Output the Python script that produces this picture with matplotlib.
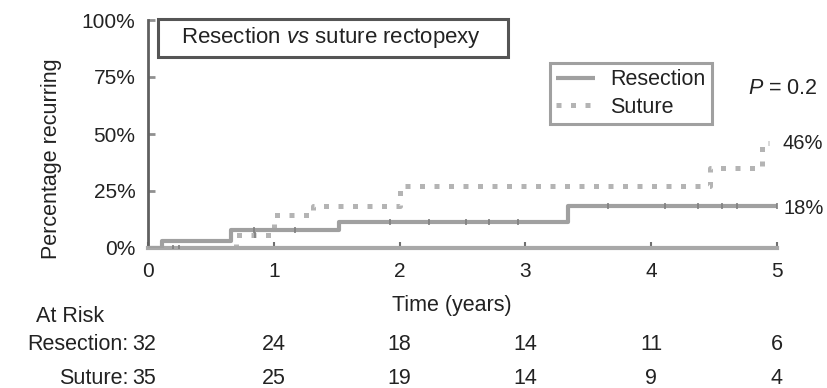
import numpy as np
import matplotlib
matplotlib.use("Agg")
import matplotlib.pyplot as plt
from matplotlib.patches import Rectangle
from matplotlib.transforms import blended_transform_factory

plt.rcParams['font.family'] = ['Liberation Sans', 'DejaVu Sans']
plt.rcParams['mathtext.fontset'] = 'custom'
plt.rcParams['mathtext.rm'] = 'Liberation Sans'
plt.rcParams['mathtext.it'] = 'Liberation Sans:italic'

# cumulative recurrence (step curves), time in years, value in percent
resection_t = [0, 0.11, 0.66, 1.52, 3.34, 5.0]
resection_pct = [0, 3.1, 7.8, 11.6, 18.4, 18.4]
suture_t = [0, 0.70, 1.0, 1.31, 2.0, 4.47, 4.88, 4.94]
suture_pct = [0, 5.7, 14.3, 18.6, 27.0, 35.0, 46.0, 46.0]

# censored observations
resection_cens = [0.84, 1.17, 1.92, 2.23, 2.53, 2.71, 2.94, 3.66, 4.11, 4.37, 4.56, 4.68, 5.0]
suture_cens = [0.2, 0.25, 0.85]

years = [0, 1, 2, 3, 4, 5]
risk_resection = [32, 24, 18, 14, 11, 6]
risk_suture = [35, 25, 19, 14, 9, 4]

final_labels = ["46%", "18%"]

W, H = 828, 388
def fx(x):
    return x / W
def fy(y):
    return 1 - y / H

txt = '#222222'
fs = 15.5

fig = plt.figure(figsize=(W / 100, H / 100), dpi=100)
ax = fig.add_axes([fx(148), fy(248), fx(777) - fx(148), fy(20) - fy(248)])

res_line, = ax.step(resection_t, resection_pct, where='post', color='#a0a0a0', lw=3.0,
                    solid_capstyle='butt', zorder=3)
sut_line, = ax.step(suture_t, suture_pct, where='post', color='#b4b4b4', lw=3.6,
                    dashes=(1, 1.9), dash_capstyle='butt', zorder=2)

def level(ts, ps, t):
    i = np.searchsorted(ts, t, side='right') - 1
    return ps[i]

ax.plot(resection_cens, [level(resection_t, resection_pct, t) for t in resection_cens],
        ls='none', marker='|', ms=5, mew=1.2, color='#808080', zorder=4)
ax.plot(suture_cens, [level(suture_t, suture_pct, t) for t in suture_cens],
        ls='none', marker='|', ms=5, mew=1.2, color='#808080', zorder=4)

ax.set_xlim(0, 5)
ax.set_ylim(0, 100)
ax.set_xticks(years)
ax.set_yticks([0, 25, 50, 75, 100])
ax.set_yticklabels(['0%', '25%', '50%', '75%', '100%'])
ax.tick_params(axis='y', direction='in', length=5, width=2, color='#909090',
               labelsize=fs - 0.5, labelcolor=txt, pad=9)
ax.tick_params(axis='x', direction='in', length=4, width=1.5, color='#707070',
               labelsize=fs - 0.5, labelcolor=txt, pad=10)
for s in ['top', 'right']:
    ax.spines[s].set_visible(False)
ax.spines['left'].set_color('#606060')
ax.spines['left'].set_linewidth(2)
ax.spines['bottom'].set_color('#a8a8a8')
ax.spines['bottom'].set_linewidth(3)
ax.patch.set_alpha(0)

# end-of-curve values
ax.text(5.045, suture_pct[-1], final_labels[0], ha='left', va='center', fontsize=fs - 1, color=txt)
ax.text(5.05, resection_pct[-1] - 1, final_labels[1], ha='left', va='center', fontsize=fs - 1, color=txt)

fig.text(fx(52), fy(159), 'Percentage recurring', rotation=90, ha='center', va='center',
         fontsize=fs, color=txt)
fig.text(fx(452), fy(305), 'Time (years)', ha='center', va='center', fontsize=fs, color=txt)

# title box
fig.add_artist(Rectangle((fx(158), fy(57)), fx(508) - fx(158), fy(19) - fy(57),
                         transform=fig.transFigure, fill=False, edgecolor='#555555', lw=2.2))
fig.text(fx(181), fy(38), r'Resection $\mathit{vs}$ suture rectopexy', ha='left', va='center',
         fontsize=fs + 0.5, color=txt)

leg = ax.legend([res_line, sut_line], ['Resection', 'Suture'], loc='upper left',
                bbox_to_anchor=(fx(550), fy(63)), bbox_transform=fig.transFigure,
                borderaxespad=0, fancybox=False, framealpha=1, edgecolor='#a0a0a0',
                fontsize=fs, handlelength=1.8, handletextpad=0.7, labelspacing=0.3,
                borderpad=0.3, labelcolor=txt)
leg.get_frame().set_linewidth(2.2)

fig.text(fx(748), fy(89), r'$P$ = 0.2', ha='left', va='center', fontsize=fs, color=txt)

# numbers at risk
fig.text(fx(36), fy(316), 'At Risk', ha='left', va='center', fontsize=fs, color=txt)
fig.text(fx(129), fy(344), 'Resection:', ha='right', va='center', fontsize=fs, color=txt)
fig.text(fx(129), fy(378), 'Suture:', ha='right', va='center', fontsize=fs, color=txt)
tr = blended_transform_factory(ax.transData, fig.transFigure)
for t, a, b in zip(years, risk_resection, risk_suture):
    x = t if t > 0 else -0.03
    ax.text(x, fy(344), str(a), transform=tr, ha='center', va='center', fontsize=fs, color=txt)
    ax.text(x, fy(378), str(b), transform=tr, ha='center', va='center', fontsize=fs, color=txt)

fig.savefig('out.png', dpi=100)
